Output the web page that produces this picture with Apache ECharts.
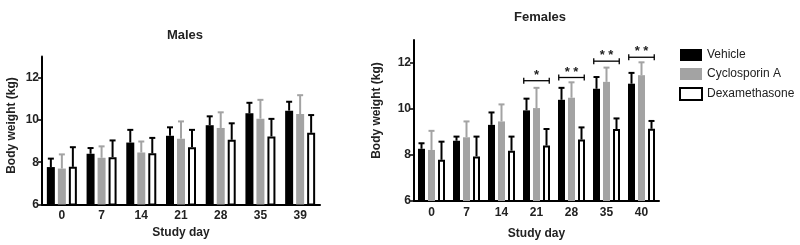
<!DOCTYPE html>
<html>
<head>
<meta charset="utf-8">
<script src="https://cdn.jsdelivr.net/npm/echarts@6/dist/echarts.min.js"></script>
<style>
  html, body { margin: 0; padding: 0; background: #fff; }
  #chart { width: 800px; height: 245px; }
</style>
</head>
<body>
<div id="chart"></div>
<script>
// study days
const maleDays = ['0', '7', '14', '21', '28', '35', '39'];
const femaleDays = ['0', '7', '14', '21', '28', '35', '40'];
const yTicks = [6, 8, 10, 12];
const groupNames = ['Vehicle', 'Cyclosporin A', 'Dexamethasone'];

// males: mean body weight (kg) and SD
const maleVehicle = [7.77, 8.40, 8.93, 9.25, 9.75, 10.31, 10.44];
const maleVehicleSd = [0.40, 0.27, 0.60, 0.40, 0.42, 0.50, 0.42];
const maleCyclo = [7.70, 8.21, 8.46, 9.11, 9.62, 10.06, 10.28];
const maleCycloSd = [0.67, 0.54, 0.52, 0.82, 0.74, 0.89, 0.89];
const maleDexa = [7.78, 8.24, 8.42, 8.71, 9.06, 9.22, 9.39];
const maleDexaSd = [0.93, 0.79, 0.73, 0.82, 0.78, 0.83, 0.84];

// females
const femaleVehicle = [8.27, 8.62, 9.31, 9.94, 10.40, 10.88, 11.10];
const femaleVehicleSd = [0.24, 0.18, 0.54, 0.51, 0.52, 0.51, 0.47];
const femaleCyclo = [8.22, 8.77, 9.46, 10.04, 10.49, 11.18, 11.47];
const femaleCycloSd = [0.83, 0.69, 0.74, 0.88, 0.67, 0.62, 0.56];
const femaleDexa = [7.79, 7.94, 8.19, 8.41, 8.67, 9.13, 9.14];
const femaleDexaSd = [0.79, 0.86, 0.61, 0.72, 0.53, 0.46, 0.34];

// significance brackets (females)
const sigIndex = [3, 4, 5, 6];
const sigLevel = [11.23, 11.37, 12.08, 12.25];
const sigLabel = ['*', '* *', '* *', '* *'];

const FONT = 'Liberation Sans, Arial, sans-serif';
const colors = ['#000000', '#a3a3a3', '#ffffff'];
const errColors = ['#000000', '#a3a3a3', '#000000'];

const chart = echarts.init(document.getElementById('chart'));

function xAxisOf(gridIndex, days, labelMargin, nameGap) {
  return {
    type: 'category', gridIndex: gridIndex, data: days,
    name: 'Study day', nameLocation: 'middle', nameGap: nameGap,
    nameTextStyle: { fontFamily: FONT, fontWeight: 'bold', fontSize: 12, color: '#222' },
    axisLine: { lineStyle: { color: '#000', width: 2 } },
    axisTick: { alignWithLabel: true, length: 3, lineStyle: { color: '#000', width: 1.5 } },
    axisLabel: { fontFamily: FONT, fontSize: 12, fontWeight: 'bold', color: '#222', margin: labelMargin },
    splitLine: { show: false }
  };
}

function yAxisOf(gridIndex, nameGap, shift) {
  return {
    type: 'value', gridIndex: gridIndex, min: 6, max: 13,
    name: 'Body weight (kg)', nameLocation: 'middle', nameGap: nameGap,
    nameTextStyle: { fontFamily: FONT, fontWeight: 'bold', fontSize: 12, color: '#222', padding: [0, 0, 0, shift] },
    axisLine: { show: true, lineStyle: { color: '#000', width: 2 } },
    axisTick: { show: true, length: 4, customValues: yTicks, lineStyle: { color: '#000', width: 1.5 } },
    axisLabel: { fontFamily: FONT, fontSize: 12, fontWeight: 'bold', color: '#222', margin: 3, customValues: yTicks },
    splitLine: { show: false }
  };
}

function barSeries(name, idx, axisIndex, values, width, gap) {
  return {
    name: name, type: 'bar', xAxisIndex: axisIndex, yAxisIndex: axisIndex,
    data: values, barWidth: width, barGap: gap,
    itemStyle: idx === 2
      ? { color: '#fff', borderColor: '#000', borderWidth: 2 }
      : { color: colors[idx] },
    emphasis: { disabled: true },
    z: 2
  };
}

// error bars drawn next to the bars, offset by bar slot
function errSeries(idx, axisIndex, values, sds, width, gapPx) {
  const offset = (idx - 1) * (width + gapPx);
  return {
    type: 'custom', xAxisIndex: axisIndex, yAxisIndex: axisIndex,
    data: values.map((v, i) => [i, v, sds[i]]),
    encode: { x: 0, y: 1 },
    z: 3, silent: true,
    renderItem: function (params, api) {
      const i = api.value(0), m = api.value(1), s = api.value(2);
      const base = api.coord([i, m]);
      const top = api.coord([i, m + s]);
      const x = base[0] + offset;
      const st = { stroke: errColors[idx], lineWidth: 2 };
      return {
        type: 'group', children: [
          { type: 'line', shape: { x1: x, y1: base[1], x2: x, y2: top[1] }, style: st },
          { type: 'line', shape: { x1: x - 3, y1: top[1], x2: x + 3, y2: top[1] }, style: st }
        ]
      };
    }
  };
}

const MW = 8, MG = 3;   // males bar width / gap (px)
const FW = 7, FG = 3;   // females

const series = [];
const maleSets = [[maleVehicle, maleVehicleSd], [maleCyclo, maleCycloSd], [maleDexa, maleDexaSd]];
const femaleSets = [[femaleVehicle, femaleVehicleSd], [femaleCyclo, femaleCycloSd], [femaleDexa, femaleDexaSd]];
maleSets.forEach((s, k) => series.push(barSeries(groupNames[k], k, 0, s[0], MW, (MG / MW * 100) + '%')));
femaleSets.forEach((s, k) => series.push(barSeries(groupNames[k], k, 1, s[0], FW, (FG / FW * 100) + '%')));
maleSets.forEach((s, k) => series.push(errSeries(k, 0, s[0], s[1], MW, MG)));
femaleSets.forEach((s, k) => series.push(errSeries(k, 1, s[0], s[1], FW, FG)));

// brackets with stars
series.push({
  type: 'custom', xAxisIndex: 1, yAxisIndex: 1, silent: true, z: 4,
  data: sigIndex.map((c, i) => [c, sigLevel[i], i]),
  encode: { x: 0, y: 1 },
  renderItem: function (params, api) {
    const p = api.coord([api.value(0), api.value(1)]);
    const half = FW + FG + FW / 4 + 1;
    const st = { stroke: '#000', lineWidth: 1.3 };
    return {
      type: 'group', children: [
        { type: 'line', shape: { x1: p[0] - half, y1: p[1], x2: p[0] + half, y2: p[1] }, style: st },
        { type: 'line', shape: { x1: p[0] - half, y1: p[1] - 3, x2: p[0] - half, y2: p[1] + 3 }, style: st },
        { type: 'line', shape: { x1: p[0] + half, y1: p[1] - 3, x2: p[0] + half, y2: p[1] + 3 }, style: st },
        { type: 'text', style: { x: p[0], y: p[1] + 1, text: sigLabel[api.value(2)], align: 'center', verticalAlign: 'bottom',
            fontFamily: FONT, fontSize: 13, fontWeight: 'bold', fill: '#222' } }
      ]
    };
  }
});

const option = {
  animation: false,
  backgroundColor: '#fff',
  title: [
    { text: 'Males', left: 180, top: 24, textAlign: 'center',
      textStyle: { fontFamily: FONT, fontWeight: 'bold', fontSize: 13, color: '#222' } },
    { text: 'Females', left: 535, top: 6, textAlign: 'center',
      textStyle: { fontFamily: FONT, fontWeight: 'bold', fontSize: 13, color: '#222' } }
  ],
  legend: {
    data: groupNames, orient: 'vertical', left: 674, top: 44,
    itemWidth: 22, itemHeight: 12, itemGap: 7, icon: 'rect',
    textStyle: { fontFamily: FONT, fontSize: 12, color: '#222' }
  },
  grid: [
    { left: 42, right: 480, top: 56.5, bottom: 40.5 },
    { left: 414, right: 141, top: 40, bottom: 42.3 }
  ],
  xAxis: [xAxisOf(0, maleDays, 5, 17), xAxisOf(1, femaleDays, 6, 27)],
  yAxis: [yAxisOf(0, 24, 10), yAxisOf(1, 31, 20)],
  series: series
};

chart.setOption(option);
</script>
</body>
</html>
